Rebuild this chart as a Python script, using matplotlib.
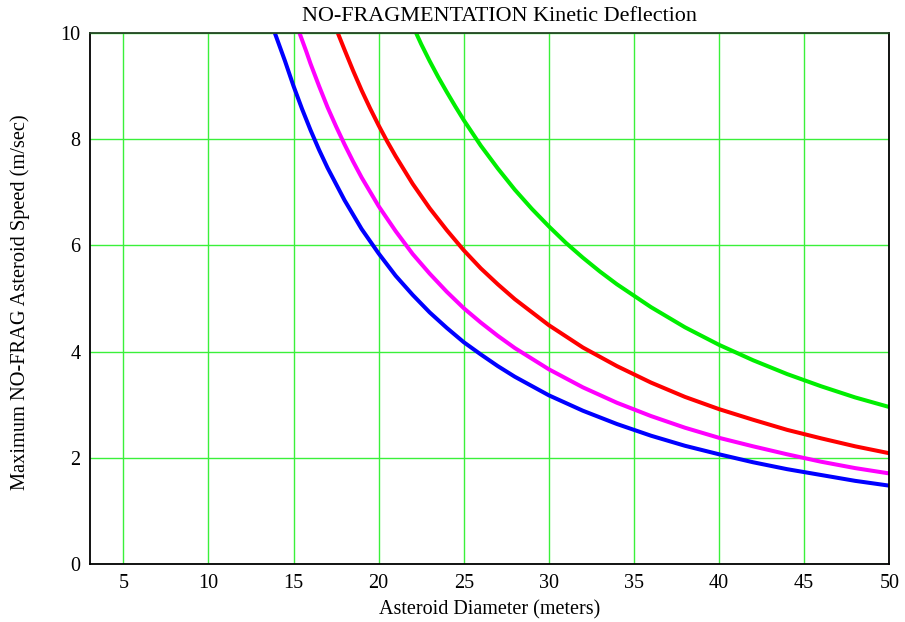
import matplotlib
matplotlib.use("Agg")
import matplotlib.pyplot as plt

plt.rcParams['font.family'] = ['Liberation Serif', 'DejaVu Serif']

# Data (diameter in m, speed in m/s)
blue_x = [13.9, 14.5, 15, 15.5, 16, 16.5, 17, 18, 19, 20, 21, 22, 23, 24, 25, 26, 27, 28, 30,
          32, 34, 36, 38, 40, 42, 44, 46, 48, 50]
blue_y = [10.0, 9.47, 9.00, 8.57, 8.17, 7.80, 7.46, 6.85, 6.31, 5.85, 5.43, 5.07, 4.74, 4.45, 4.18,
          3.95, 3.73, 3.53, 3.18, 2.89, 2.64, 2.42, 2.23, 2.07, 1.92, 1.79, 1.68, 1.57, 1.48]

magenta_x = [15.35, 15.75, 16, 16.5, 17, 17.5, 18, 18.5, 19, 20, 21, 22, 23, 24, 25, 26, 27, 28, 30,
             32, 34, 36, 38, 40, 42, 44, 46, 48, 50]
magenta_y = [10.0, 9.65, 9.42, 9.00, 8.60, 8.24, 7.90, 7.58, 7.28, 6.74, 6.27, 5.84, 5.47, 5.13, 4.82,
             4.55, 4.30, 4.07, 3.67, 3.33, 3.04, 2.79, 2.57, 2.38, 2.22, 2.07, 1.93, 1.81, 1.71]

red_x = [17.6, 18, 18.5, 19, 19.5, 20, 20.5, 21, 22, 23, 24, 25, 26, 27, 28, 30, 32, 34, 36, 38,
         40, 42, 44, 46, 48, 50]
red_y = [10.0, 9.68, 9.29, 8.92, 8.58, 8.26, 7.96, 7.68, 7.16, 6.70, 6.29, 5.91, 5.57, 5.27, 4.99,
         4.50, 4.08, 3.73, 3.42, 3.15, 2.92, 2.72, 2.53, 2.37, 2.22, 2.09]

green_x = [22.2, 22.5, 23, 23.5, 24, 24.5, 25, 25.5, 26, 27, 28, 29, 30, 31, 32, 33, 34, 36, 38,
           40, 42, 44, 46, 48, 50]
green_y = [10.0, 9.79, 9.47, 9.17, 8.89, 8.62, 8.36, 8.12, 7.88, 7.45, 7.05, 6.69, 6.36, 6.05, 5.77,
           5.51, 5.27, 4.84, 4.46, 4.13, 3.84, 3.58, 3.35, 3.14, 2.96]

x_ticks = [5, 10, 15, 20, 25, 30, 35, 40, 45, 50]
y_ticks = [0, 2, 4, 6, 8, 10]

fig = plt.figure(figsize=(9.05, 6.22), dpi=100)
ax = fig.add_axes([0.0998, 0.0928, 0.8828, 0.8542])

ax.set_xlim(3.06, 50)
ax.set_ylim(0, 10)
ax.set_xticks(x_ticks)
ax.set_yticks(y_ticks)
ax.grid(True, color='#3af03a', linewidth=1.0)
ax.set_axisbelow(True)

for xs, ys, c in [(blue_x, blue_y, '#0000ff'), (magenta_x, magenta_y, '#ff00ff'),
                  (red_x, red_y, '#ff0000'), (green_x, green_y, '#00ee00')]:
    ax.plot(xs, ys, color=c, linewidth=2.9, solid_capstyle='butt', solid_joinstyle='round')

ax.tick_params(length=0, labelsize=14.5, colors='black')
ax.tick_params(axis='x', pad=7)
ax.tick_params(axis='y', pad=7)
for s in ax.spines.values():
    s.set_linewidth(1.3)
    s.set_color('black')
ax.spines['top'].set_color('#224422')

fig.text(499 / 905, 1 - 21 / 622, 'NO-FRAGMENTATION Kinetic Deflection', fontsize=15.9,
         ha='center', va='baseline')
fig.text(490 / 905, 1 - 614 / 622, 'Asteroid Diameter (meters)', fontsize=14.5,
         ha='center', va='baseline')
fig.text(20 / 905, 1 - 302 / 622, 'Maximum NO-FRAG Asteroid Speed (m/sec)', fontsize=14.7,
         ha='center', va='center', rotation=90)

fig.savefig('out.png', dpi=100)
